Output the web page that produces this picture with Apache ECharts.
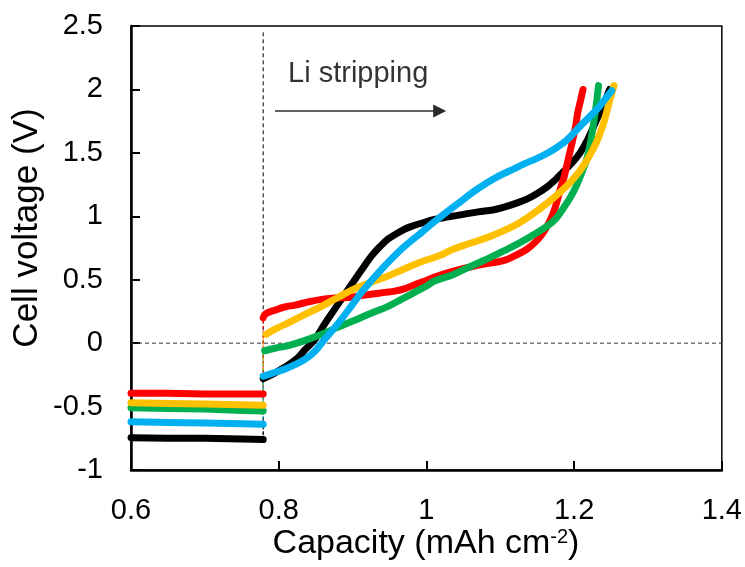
<!DOCTYPE html>
<html>
<head>
<meta charset="utf-8">
<script src="https://cdn.jsdelivr.net/npm/echarts@6/dist/echarts.min.js"></script>
<style>
  html, body { margin: 0; padding: 0; background: #fff; }
  #chart { width: 745px; height: 567px; }
</style>
</head>
<body>
<div id="chart"></div>
<script>
// Axis ranges and ticks
const xRange = { min: 0.6, max: 1.4, step: 0.2 };
const yRange = { min: -1, max: 2.5, step: 0.5 };
const stripStart = 0.779;   // capacity where plating ends and stripping begins

// Plating plateaus (capacity, voltage)
const plateauCapacity = [0.6, 0.65, 0.7, 0.75, 0.779];
const plateauBlack  = [-0.745, -0.75, -0.75, -0.755, -0.76];
const plateauBlue   = [-0.62, -0.625, -0.63, -0.635, -0.64];
const plateauGreen  = [-0.51, -0.515, -0.52, -0.53, -0.535];
const plateauYellow = [-0.47, -0.475, -0.48, -0.485, -0.49];
const plateauRed    = [-0.395, -0.395, -0.40, -0.40, -0.40];

// Stripping curves [capacity, voltage]
const stripBlack = [[0.779,-0.28],[0.79,-0.25],[0.808,-0.19],[0.825,-0.12],[0.836,-0.05],[0.849,0.03],[0.862,0.15],[0.876,0.27],[0.89,0.39],[0.903,0.50],[0.915,0.60],[0.926,0.69],[0.937,0.76],[0.948,0.82],[0.96,0.865],[0.971,0.90],[0.982,0.925],[0.993,0.945],[1.011,0.975],[1.03,0.995],[1.05,1.015],[1.07,1.035],[1.09,1.05],[1.104,1.07],[1.12,1.10],[1.136,1.135],[1.15,1.18],[1.163,1.23],[1.175,1.29],[1.185,1.35],[1.197,1.42],[1.208,1.50],[1.218,1.60],[1.225,1.69],[1.232,1.78],[1.238,1.86],[1.244,1.94],[1.248,2.0]];
const stripBlue = [[0.779,-0.26],[0.79,-0.24],[0.808,-0.205],[0.822,-0.17],[0.836,-0.126],[0.848,-0.07],[0.858,0.0],[0.871,0.09],[0.885,0.19],[0.898,0.29],[0.912,0.40],[0.925,0.49],[0.939,0.58],[0.952,0.66],[0.966,0.74],[0.98,0.81],[0.993,0.87],[1.005,0.93],[1.018,0.99],[1.031,1.05],[1.045,1.11],[1.063,1.19],[1.081,1.26],[1.099,1.32],[1.117,1.37],[1.133,1.415],[1.149,1.455],[1.163,1.495],[1.176,1.54],[1.19,1.60],[1.208,1.71],[1.222,1.79],[1.235,1.87],[1.244,1.94],[1.251,1.99]];
const stripGreen = [[0.781,-0.06],[0.795,-0.04],[0.813,-0.02],[0.835,0.02],[0.858,0.07],[0.88,0.125],[0.903,0.18],[0.925,0.235],[0.948,0.29],[0.966,0.345],[0.984,0.40],[1.0,0.45],[1.011,0.49],[1.036,0.54],[1.058,0.60],[1.081,0.66],[1.104,0.725],[1.126,0.79],[1.145,0.855],[1.163,0.92],[1.175,0.98],[1.185,1.06],[1.195,1.15],[1.203,1.24],[1.21,1.34],[1.217,1.45],[1.222,1.58],[1.226,1.72],[1.23,1.88],[1.233,2.03]];
const stripYellow = [[0.783,0.07],[0.795,0.11],[0.813,0.16],[0.835,0.225],[0.858,0.29],[0.88,0.36],[0.903,0.43],[0.925,0.48],[0.948,0.53],[0.966,0.575],[0.984,0.62],[1.0,0.655],[1.018,0.69],[1.036,0.74],[1.058,0.785],[1.081,0.83],[1.1,0.875],[1.117,0.92],[1.133,0.975],[1.149,1.04],[1.165,1.11],[1.181,1.19],[1.195,1.27],[1.208,1.36],[1.22,1.47],[1.23,1.58],[1.238,1.70],[1.244,1.82],[1.249,1.93],[1.254,2.03]];
const stripRed = [[0.779,0.20],[0.782,0.23],[0.795,0.26],[0.808,0.285],[0.822,0.30],[0.84,0.325],[0.858,0.345],[0.876,0.355],[0.894,0.36],[0.912,0.375],[0.930,0.39],[0.944,0.40],[0.957,0.41],[0.971,0.43],[0.984,0.46],[0.998,0.49],[1.011,0.52],[1.035,0.565],[1.059,0.60],[1.08,0.625],[1.104,0.65],[1.12,0.69],[1.136,0.74],[1.148,0.80],[1.158,0.87],[1.166,0.95],[1.172,1.03],[1.177,1.12],[1.181,1.21],[1.186,1.30],[1.19,1.40],[1.194,1.50],[1.198,1.60],[1.202,1.71],[1.205,1.82],[1.209,1.92],[1.212,2.0]];

// Annotation: arrow from/to (capacity, voltage) and label anchor
const arrowFrom = [0.795, 1.83];
const arrowTo = [1.018, 1.83];
const labelAnchor = [0.812, 2.12];
const labelText = 'Li stripping';

const FONT = '"Liberation Sans", Arial, Helvetica, sans-serif';

// Draw order: later entries sit on top
const cells = [
  { name: 'black',  color: '#000000', plateau: plateauBlack,  strip: stripBlack },
  { name: 'red',    color: '#FF0000', plateau: plateauRed,    strip: stripRed },
  { name: 'green',  color: '#00B050', plateau: plateauGreen,  strip: stripGreen },
  { name: 'yellow', color: '#FFC000', plateau: plateauYellow, strip: stripYellow },
  { name: 'blue',   color: '#00B0F0', plateau: plateauBlue,   strip: stripBlue }
];

const series = [];

// dashed guides: stripping onset and 0 V
series.push({
  type: 'line', silent: true, symbol: 'none', z: 1,
  data: [[stripStart, 2.45], [stripStart, -0.76]],
  lineStyle: { color: '#000', width: 1, type: [4, 3] }
});
series.push({
  type: 'line', silent: true, symbol: 'none', z: 1,
  data: [[xRange.min, 0], [xRange.max, 0]],
  lineStyle: { color: '#333', width: 1, type: [4, 3] },
  markLine: {
    silent: true,
    symbol: ['none', 'triangle'],
    symbolSize: 13,
    label: { show: false },
    lineStyle: { color: '#2a2a2a', width: 1.5, type: 'solid' },
    data: [[{ coord: arrowFrom }, { coord: arrowTo }]]
  }
});

// thin jumps between plateau and stripping start
cells.forEach(c => {
  series.push({
    type: 'line', silent: true, symbol: 'none', z: 2,
    data: [[stripStart, c.plateau[c.plateau.length - 1]], [stripStart, c.strip[0][1]]],
    lineStyle: { color: c.color, width: 1, type: [3, 2] }
  });
});

cells.forEach((c, i) => {
  const common = {
    type: 'line', showSymbol: false, symbol: 'none', silent: true, z: 3 + i,
    clip: false,
    lineStyle: { color: c.color, width: 7, cap: 'round', join: 'round' }
  };
  series.push(Object.assign({}, common, {
    name: c.name + ' plating',
    data: plateauCapacity.map((x, k) => [x, c.plateau[k]])
  }));
  series.push(Object.assign({}, common, {
    name: c.name + ' stripping',
    smooth: 0.4,
    data: c.strip
  }));
});

// annotation text
series.push({
  type: 'scatter', silent: true, symbolSize: 1,
  itemStyle: { color: 'rgba(0,0,0,0)' },
  data: [labelAnchor],
  label: {
    show: true, position: 'right', distance: 0,
    formatter: labelText,
    fontFamily: FONT, fontSize: 29, color: '#000'
  }
});

const chart = echarts.init(document.getElementById('chart'), null, { renderer: 'canvas' });
chart.setOption({
  animation: false,
  backgroundColor: '#fff',
  grid: {
    left: 131, right: 23, top: 26, bottom: 97,
    show: true, borderColor: '#000', borderWidth: 1.5, backgroundColor: 'transparent'
  },
  xAxis: {
    type: 'value', min: xRange.min, max: xRange.max, interval: xRange.step,
    axisLine: { show: true, onZero: false, lineStyle: { color: '#000', width: 2.5 } },
    axisTick: { show: true, inside: true, length: 9, lineStyle: { color: '#000', width: 2 } },
    axisLabel: { color: '#000', fontFamily: FONT, fontSize: 29, margin: 26 },
    splitLine: { show: false }
  },
  yAxis: {
    type: 'value', min: yRange.min, max: yRange.max, interval: yRange.step,
    axisLine: { show: true, onZero: false, lineStyle: { color: '#000', width: 2.5 } },
    axisTick: { show: true, inside: true, length: 9, lineStyle: { color: '#000', width: 2 } },
    axisLabel: { color: '#000', fontFamily: FONT, fontSize: 29, margin: 28 },
    splitLine: { show: false }
  },
  graphic: [
    {
      type: 'text',
      x: 426, y: 544,
      style: {
        text: '{a|Capacity (mAh cm}{s|-2}{a|)}',
        align: 'center', verticalAlign: 'middle',
        rich: {
          a: { fontFamily: FONT, fontSize: 34, color: '#000' },
          s: { fontFamily: FONT, fontSize: 20, color: '#000', verticalAlign: 'top', padding: [0, 0, 14, 0] }
        }
      }
    },
    {
      type: 'text',
      x: 27, y: 228,
      rotation: Math.PI / 2,
      style: {
        text: 'Cell voltage (V)',
        align: 'center', verticalAlign: 'middle',
        fontFamily: FONT, fontSize: 35, fill: '#000'
      }
    }
  ],
  series: series
});
</script>
</body>
</html>
